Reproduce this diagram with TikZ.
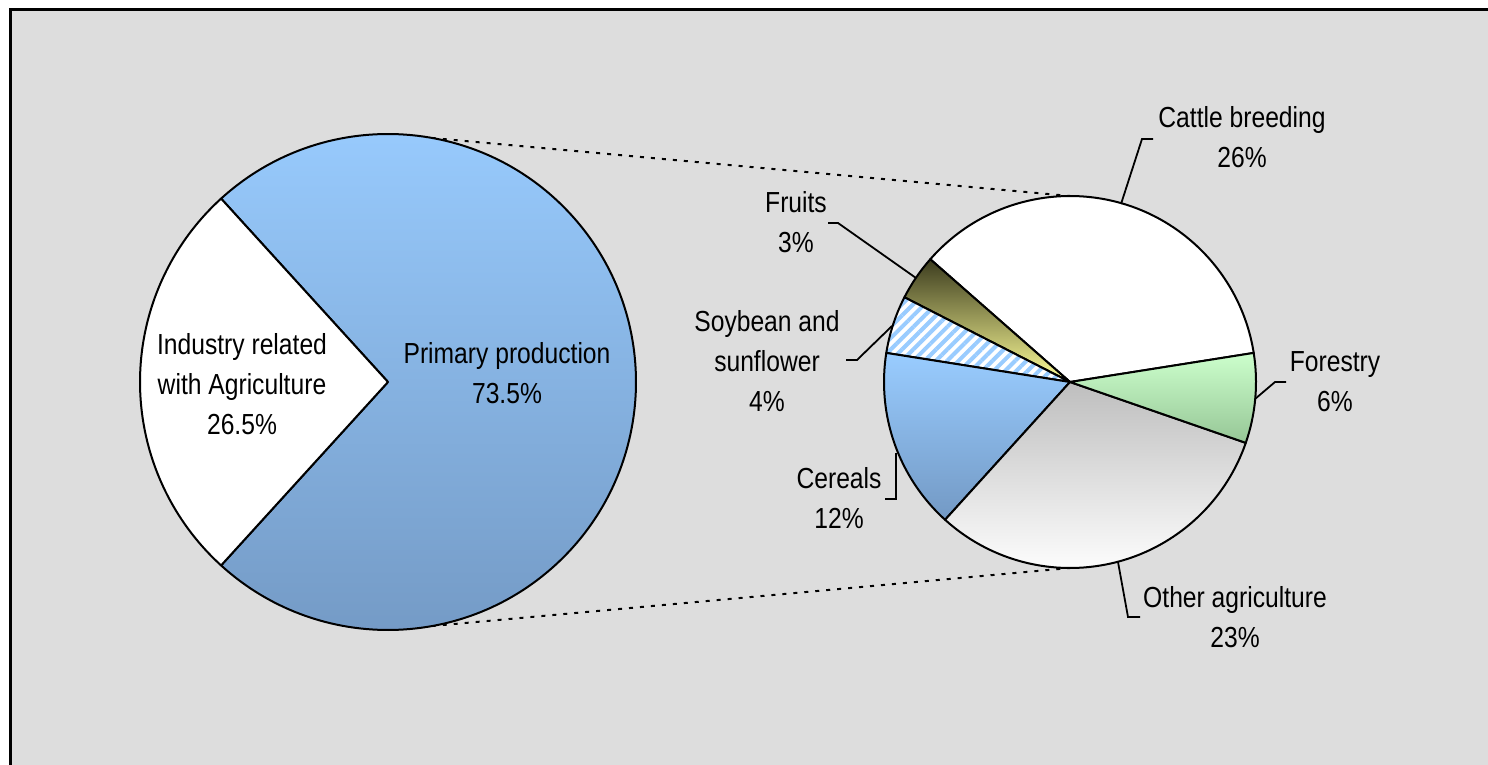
\documentclass[tikz,border=0pt]{standalone}
\usepackage{fontspec}
\setmainfont{Liberation Sans}[FakeStretch=0.85]
\usetikzlibrary{patterns.meta}
\definecolor{bg}{RGB}{221,221,221}
\definecolor{blueTop}{RGB}{153,204,255}
\definecolor{blueBot}{RGB}{115,153,196}
\definecolor{greenTop}{RGB}{204,255,204}
\definecolor{greenBot}{RGB}{150,198,150}
\definecolor{grayTop}{RGB}{190,190,190}
\definecolor{oliveDark}{RGB}{60,60,30}
\definecolor{yel}{RGB}{255,255,153}
\definecolor{stripe}{RGB}{153,204,255}
\begin{document}
\begin{tikzpicture}[x=1pt,y=-1pt,
  lbl/.style={align=center, font=\fontsize{29}{40}\selectfont, inner sep=0pt, text=black},
  slice/.style={draw=black, line width=2pt, line join=round},
  leader/.style={draw=black, line width=1.8pt},
  zoomline/.style={draw=black, line width=2pt, dash pattern=on 4pt off 7pt}]
\useasboundingbox (0,0) rectangle (1488,765);
\clip (0,0) rectangle (1488,765);
\fill[white] (0,0) rectangle (1488,765);
\filldraw[fill=bg, draw=black, line width=3pt] (10,9.5) rectangle (1500,780);

\coordinate (L) at (388,382);
\coordinate (R) at (1070,382);
\coordinate (Ltop) at (388,134);
\coordinate (Lbot) at (388,630);
\coordinate (Rtop) at (1070,196);
\coordinate (Rbot) at (1070,568);
\draw[zoomline] (Ltop) -- (Rtop);
\draw[zoomline] (Lbot) -- (Rbot);

% left pie
\shadedraw[top color=blueTop, bottom color=blueBot, slice] (L) -- ++(-132.3:248) arc[start angle=-132.3, end angle=132.3, radius=248] -- cycle;
\filldraw[fill=white, slice] (L) -- ++(132.3:248) arc[start angle=132.3, end angle=227.7, radius=248] -- cycle;

% right pie
\filldraw[fill=white, slice] (R) -- ++(-138.7:186) arc[start angle=-138.7, end angle=-9, radius=186] -- cycle;
\shadedraw[top color=oliveDark, bottom color=yel, slice] (R) -- ++(-152.9:186) arc[start angle=-152.9, end angle=-138.7, radius=186] -- cycle;
\fill[white] (R) -- ++(-171:186) arc[start angle=-171, end angle=-152.9, radius=186] -- cycle;
\fill[pattern={Lines[angle=45,distance=8pt,line width=4pt]}, pattern color=stripe] (R) -- ++(-171:186) arc[start angle=-171, end angle=-152.9, radius=186] -- cycle;
\draw[slice] (R) -- ++(-171:186) arc[start angle=-171, end angle=-152.9, radius=186] -- cycle;
\shadedraw[top color=blueTop, bottom color=blueBot, slice] (R) -- ++(-227.8:186) arc[start angle=-227.8, end angle=-171, radius=186] -- cycle;
\shadedraw[top color=grayTop, bottom color=white, slice] (R) -- ++(-340.9:186) arc[start angle=-340.9, end angle=-227.8, radius=186] -- cycle;
\shadedraw[top color=greenTop, bottom color=greenBot, slice] (R) -- ++(-369:186) arc[start angle=-369, end angle=-340.9, radius=186] -- cycle;

% labels
\node[lbl] (industry) at (242,384) {Industry related\\with Agriculture\\26.5\%};
\node[lbl] (primary) at (507,373) {Primary production\\73.5\%};
\node[lbl] (cattle) at (1242,137) {Cattle breeding\\26\%};
\node[lbl] (fruits) at (796,222) {Fruits\\3\%};
\node[lbl] (soy) at (767,361) {Soybean and\\sunflower\\4\%};
\node[lbl] (forestry) at (1335,382) {Forestry\\6\%};
\node[lbl] (cereals) at (839,498) {Cereals\\12\%};
\node[lbl] (other) at (1235,617) {Other agriculture\\23\%};

% leaders
\coordinate (cA) at (1153,139); \coordinate (cB) at (1142,139); \coordinate (cC) at (1121,204);
\draw[leader] (cA) -- (cB) -- (cC);
\coordinate (fA) at (828,223); \coordinate (fB) at (838,223); \coordinate (fC) at (916,278);
\draw[leader] (fA) -- (fB) -- (fC);
\coordinate (sA) at (846,360); \coordinate (sB) at (857,360); \coordinate (sC) at (892,326);
\draw[leader] (sA) -- (sB) -- (sC);
\coordinate (foA) at (1286,382); \coordinate (foB) at (1275,382); \coordinate (foC) at (1255,399);
\draw[leader] (foA) -- (foB) -- (foC);
\coordinate (ceA) at (885,499); \coordinate (ceB) at (896,499); \coordinate (ceC) at (896,453);
\draw[leader] (ceA) -- (ceB) -- (ceC);
\coordinate (oA) at (1140,617); \coordinate (oB) at (1128,617); \coordinate (oC) at (1118,562);
\draw[leader] (oA) -- (oB) -- (oC);
\end{tikzpicture}
\end{document}
